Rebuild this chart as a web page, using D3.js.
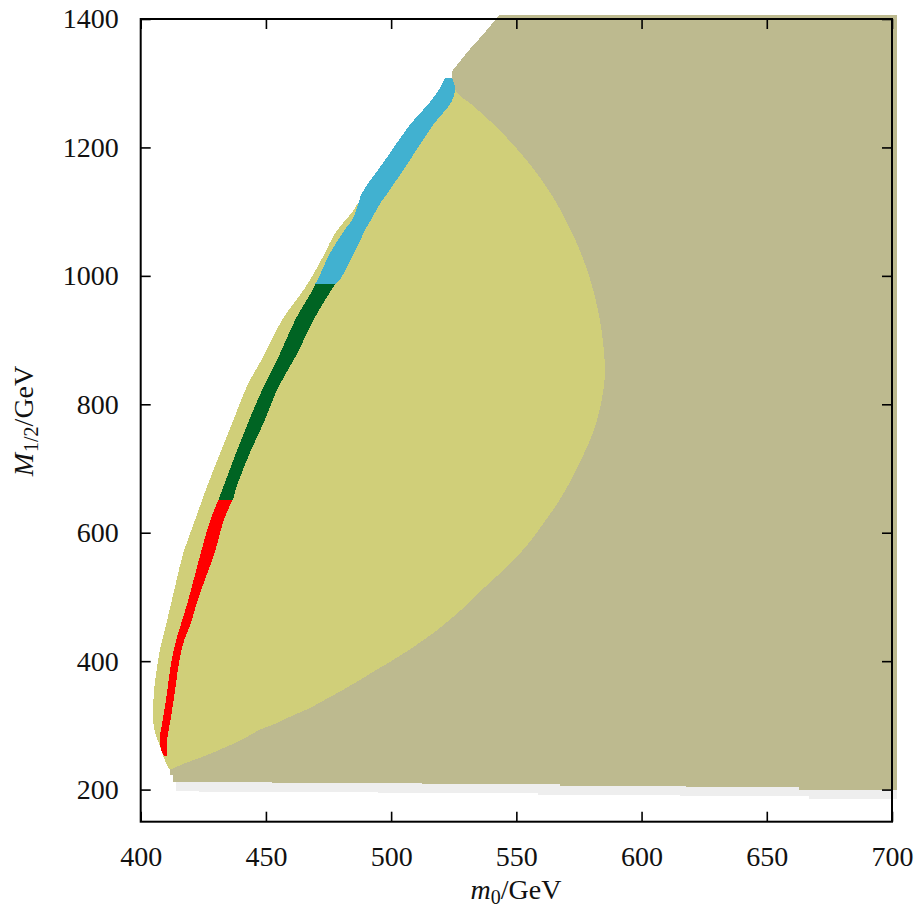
<!DOCTYPE html>
<html><head><meta charset="utf-8">
<script src="https://cdn.jsdelivr.net/npm/d3@7"></script>
<style>body{margin:0;background:#fff}svg{display:block}</style>
</head><body><svg id="c" width="921" height="922"></svg>
<script>
// ---- data ----
const xTicks = [400, 450, 500, 550, 600, 650, 700];
const yTicks = [200, 400, 600, 800, 1000, 1200, 1400];

// light grey band: stepwise lower edge [m0 start, M], ends at greyEnd
const greyBottom = [[414.1,197.4],[423.1,195.8],[494.8,194.3],[558.7,192.2],[615.4,189.6],[666.9,186.0]];
const greyEnd = 701.9;
const greyTop = 215;

// olive region: upper-left edge [m0, M], stepwise bottom edge [m0 start, M]
const oliveTopLeft = [[543.2,1406.3],[536.8,1376.3],[530.8,1350.3],[525.5,1324.4],[524.2,1318.2],[524.2,1291.3]];
const oliveLowerLeft = [[411.7,231.1],[411.7,222.7],[412.9,222.7]];
const oliveBottom = [[412.9,211.3],[452.4,209.8],[512.3,208.0],[567.5,206.2],[617.8,203.9],[662.9,200.0]];
const oliveRight = 701.9;
const oliveTop = 1406.3;

// yellow region: left edge bottom->top, right/lower edge top->bottom [m0, M]
const yellowLeft = [[411.7,231.1],[410.4,238.9],[407.7,267.3],[405.3,295.9],[405.3,352.8],[406.4,386.5],[407.7,417.6],[410.6,464.3],[413.7,515.6],[417.0,568.4],[421.7,619.7],[426.4,671.0],[431.7,723.9],[437.0,775.2],[442.3,826.9],[449.6,878.8],[456.3,930.6],[465.8,982.4],[473.4,1034.3],[477.4,1065.4],[481.6,1086.0],[484.9,1101.6],[486.6,1112.0],[492.4,1127.6],[501.6,1180.3],[511.5,1231.1],[520.3,1272.6],[524.3,1291.3]];
const yellowRight = [[525.5,1291.3],[526.8,1283.0],[531.9,1267.5],[536.5,1251.9],[543.5,1226.0],[549.7,1200.0],[555.3,1174.2],[560.3,1148.2],[564.7,1122.3],[568.4,1096.5],[571.8,1070.5],[574.8,1044.6],[577.4,1018.8],[579.6,992.8],[581.4,966.8],[582.9,941.0],[584.0,915.1],[584.8,888.6],[585.3,863.8],[585.2,837.3],[584.4,814.0],[583.2,790.6],[581.6,767.4],[579.4,744.1],[576.4,718.1],[573.2,692.3],[569.6,666.4],[565.5,640.4],[560.8,614.6],[555.9,588.6],[550.3,562.7],[543.5,536.9],[536.2,510.9],[528.2,480.6],[518.2,447.9],[507.5,418.4],[500.9,402.1],[494.2,386.5],[487.6,371.0],[480.9,355.5],[474.3,341.5],[467.6,327.0],[460.9,315.8],[454.3,303.4],[447.6,293.3],[439.7,276.2],[434.3,266.8],[426.4,253.6],[419.7,244.0],[415.7,237.8]];

// coloured stripes: [M, m0 left, m0 right]
const redStripe = [[650.8,431.0,436.6],[619.7,427.8,433.2],[568.4,424.0,429.5],[515.6,420.4,424.6],[495.4,419.0,422.8],[456.5,416.0,419.8],[433.2,414.2,417.4],[402.1,412.4,415.5],[371.0,411.2,414.3],[339.9,410.1,413.2],[308.8,408.8,411.9],[277.7,407.6,410.6],[262.0,408.2,410.6],[252.9,409.2,410.6]];
const greenStripe = [[988.1,469.6,478.0],[982.4,469.2,476.9],[930.6,461.6,468.9],[878.8,455.6,462.5],[826.9,449.0,455.0],[775.2,443.3,449.5],[749.2,440.6,446.5],[723.4,438.0,443.5],[671.5,433.0,438.3],[650.8,431.0,436.8]];
const cyanStripe = [[1308.4,521.5,524.3],[1292.8,519.5,525.5],[1272.6,515.9,524.3],[1232.2,506.9,516.2],[1180.3,497.6,507.5],[1128.5,488.3,498.5],[1112.0,486.9,495.5],[1086.0,484.3,491.8],[1076.6,482.4,490.3],[1035.2,475.6,485.2],[992.7,470.5,479.3],[988.1,469.6,478.0]];

const colors = {grey:'#eeeeee', olive:'#bdba8f', yellow:'#d0cf79', red:'#ff0000', green:'#006423', cyan:'#41b1d0'};

// ---- drawing ----
const svg = d3.select('#c');
const x = d3.scaleLinear().domain([400, 700]).range([140.7, 892]);
const y = d3.scaleLinear().domain([150, 1400]).range([821.7, 19]);
const poly = d3.line().x(d => x(d[0])).y(d => y(d[1]));
const smooth = d3.line().x(d => x(d[0])).y(d => y(d[1])).curve(d3.curveCatmullRom.alpha(0.5));
const stripe = d3.area().y(d => y(d[0])).x0(d => x(d[1])).x1(d => x(d[2])).curve(d3.curveCatmullRom.alpha(0.5));

function steps(arr, end) {
  const out = [];
  arr.forEach((d, i) => {
    const nx = i < arr.length - 1 ? arr[i + 1][0] : end;
    out.push([d[0], d[1]], [nx, d[1]]);
  });
  return out;
}

const g = svg.append('g').attr('shape-rendering', 'crispEdges');

// grey band
const greyPts = steps(greyBottom, greyEnd).concat([[greyEnd, greyTop], [greyBottom[0][0], greyTop]]);
g.append('path').attr('d', poly(greyPts) + 'Z').attr('fill', colors.grey);

// olive
const olivePts = oliveTopLeft.concat(oliveLowerLeft, steps(oliveBottom, oliveRight), [[oliveRight, oliveTop]]);
g.append('path').attr('d', poly(olivePts) + 'Z').attr('fill', colors.olive);

// yellow
const yPath = smooth(yellowLeft) + smooth(yellowRight).replace(/^M/, 'L') + 'Z';
g.append('path').attr('d', yPath).attr('fill', colors.yellow);

// stripes
g.append('path').attr('d', stripe(redStripe)).attr('fill', colors.red);
g.append('path').attr('d', stripe(greenStripe)).attr('fill', colors.green);
g.append('path').attr('d', stripe(cyanStripe)).attr('fill', colors.cyan);

// axes
const font = "'Liberation Serif', 'Times New Roman', serif";
const fs = 28;
function styleAxis(sel) {
  sel.select('.domain').remove();
  sel.selectAll('.tick line').attr('stroke', '#000').attr('stroke-width', 1.6);
  sel.selectAll('.tick text').attr('font-family', font).attr('font-size', fs).attr('fill', '#111');
}
svg.append('g').attr('transform', `translate(0,${y.range()[0]})`)
  .call(d3.axisBottom(x).tickValues(xTicks).tickSize(-10).tickPadding(24).tickFormat(d3.format('d')))
  .call(styleAxis);
svg.append('g').attr('transform', `translate(0,${y.range()[1]})`)
  .call(d3.axisTop(x).tickValues(xTicks).tickSize(-10).tickFormat(''))
  .call(styleAxis);
svg.append('g').attr('transform', `translate(${x.range()[0]},0)`)
  .call(d3.axisLeft(y).tickValues(yTicks).tickSize(-10).tickPadding(22).tickFormat(d3.format('d')))
  .call(styleAxis);
svg.append('g').attr('transform', `translate(${x.range()[1]},0)`)
  .call(d3.axisRight(y).tickValues(yTicks).tickSize(-10).tickFormat(''))
  .call(styleAxis);

// frame
svg.append('rect')
  .attr('x', x.range()[0]).attr('y', y.range()[1])
  .attr('width', x.range()[1] - x.range()[0]).attr('height', y.range()[0] - y.range()[1])
  .attr('fill', 'none').attr('stroke', '#000').attr('stroke-width', 2);

// axis titles
const xt = svg.append('text').attr('x', 516).attr('y', 899).attr('text-anchor', 'middle')
  .attr('font-family', font).attr('font-size', fs).attr('fill', '#111');
xt.append('tspan').attr('font-style', 'italic').text('m');
xt.append('tspan').attr('font-size', 20).attr('dy', 5).text('0');
xt.append('tspan').attr('dy', -5).text('/GeV');

const yt = svg.append('text').attr('transform', 'translate(33,421) rotate(-90)').attr('text-anchor', 'middle')
  .attr('font-family', font).attr('font-size', fs).attr('fill', '#111');
yt.append('tspan').attr('font-style', 'italic').text('M');
yt.append('tspan').attr('font-size', 20).attr('dy', 5).attr('dx', 1).text('1/2');
yt.append('tspan').attr('dy', -5).text('/GeV');
</script></body></html>
